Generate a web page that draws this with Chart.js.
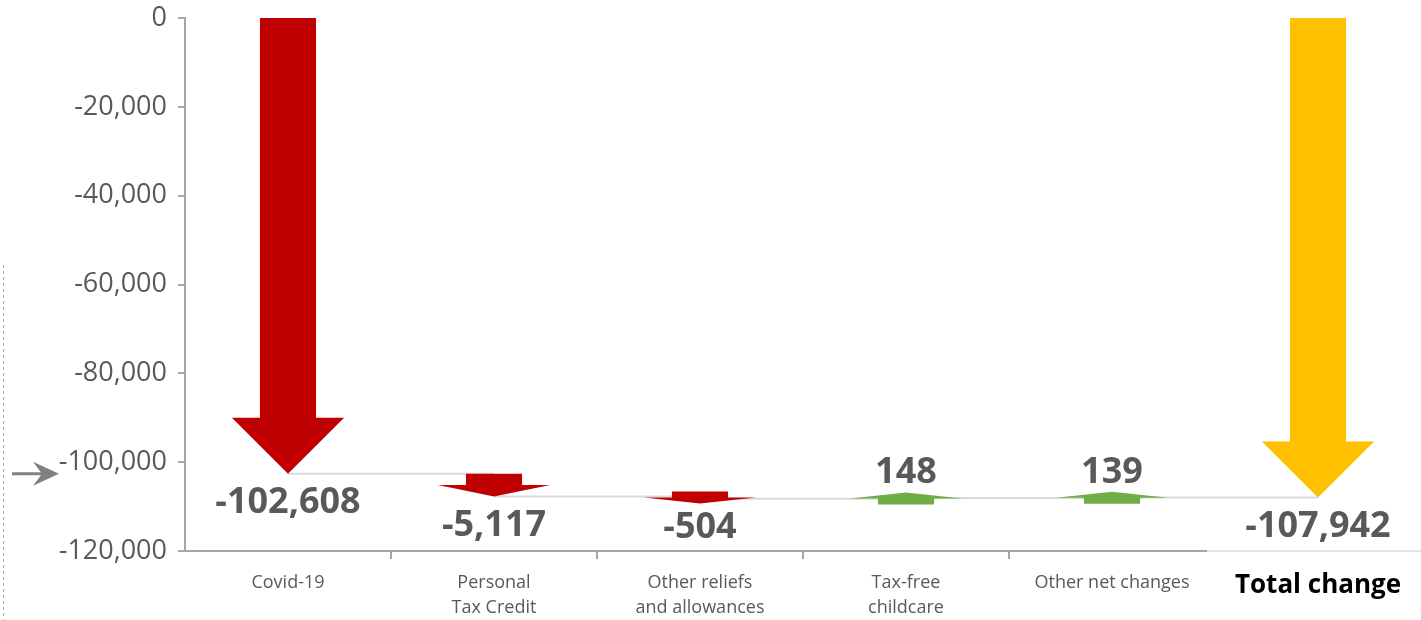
<!DOCTYPE html>
<html>
<head>
<meta charset="utf-8">
<script src="https://cdn.jsdelivr.net/npm/chart.js@4"></script>
<style>
  html, body { margin: 0; padding: 0; background: #fff; }
  #wrap { width: 1421px; height: 620px; position: relative; }
</style>
</head>
<body>
<div id="wrap"><canvas id="chart"></canvas></div>
<script>
// Datos del gráfico (cascada con flechas)
const categories = [
    ['Covid-19'],
    ['Personal', 'Tax Credit'],
    ['Other reliefs', 'and allowances'],
    ['Tax-free', 'childcare'],
    ['Other net changes'],
    ['Total change']
];
const changes = [-102608, -5117, -504, 148, 139];
const totalChange = -107942;
const yTicks = [0, -20000, -40000, -60000, -80000, -100000, -120000];

const RED = '#C00000';
const GREEN = '#70AD47';
const GOLD = '#FFC000';
const GREY_TEXT = '#595959';
const FONT = "'Open Sans', sans-serif";

// Rangos flotantes [inicio, fin] para cada flecha
const ranges = [];
let running = 0;
changes.forEach(v => {
    ranges.push([running, running + v]);
    running += v;
});
ranges.push([0, totalChange]);

const arrowColors = changes.map(v => v < 0 ? RED : GREEN).concat([GOLD]);
const labelValues = changes.concat([totalChange]);

const fmt = v => v.toLocaleString('en-US');

// Plugin que dibuja las flechas, conectores y etiquetas
const arrowPlugin = {
    id: 'arrows',
    beforeDatasetsDraw(chart) {
        const { ctx } = chart;
        const y = chart.scales.y;
        const meta = chart.getDatasetMeta(0);
        ctx.save();
        ctx.strokeStyle = '#D9D9D9';
        ctx.lineWidth = 2;
        for (let i = 0; i < ranges.length - 1; i++) {
            const py = y.getPixelForValue(ranges[i][1]);
            ctx.beginPath();
            ctx.moveTo(meta.data[i].x, py);
            ctx.lineTo(meta.data[i + 1].x, py);
            ctx.stroke();
        }
        ctx.restore();
    },
    afterDatasetsDraw(chart) {
        const { ctx } = chart;
        const y = chart.scales.y;
        const meta = chart.getDatasetMeta(0);
        ctx.save();
        meta.data.forEach((bar, i) => {
            const headW = bar.width;
            const shaftW = headW / 2;
            let p0 = y.getPixelForValue(ranges[i][0]);
            let p1 = y.getPixelForValue(ranges[i][1]);
            const dir = p1 > p0 ? 1 : -1;
            let len = Math.abs(p1 - p0);
            if (len < 12) {
                const mid = (p0 + p1) / 2;
                len = 12;
                p0 = mid - dir * 6;
                p1 = mid + dir * 6;
            }
            const headL = Math.min(56, len * 0.5);
            const pb = p1 - dir * headL;
            const x = bar.x;
            ctx.fillStyle = arrowColors[i];
            ctx.beginPath();
            ctx.moveTo(x - shaftW / 2, p0);
            ctx.lineTo(x + shaftW / 2, p0);
            ctx.lineTo(x + shaftW / 2, pb);
            ctx.lineTo(x + headW / 2, pb);
            ctx.lineTo(x, p1);
            ctx.lineTo(x - headW / 2, pb);
            ctx.lineTo(x - shaftW / 2, pb);
            ctx.closePath();
            ctx.fill();

            // etiqueta del valor
            const v = labelValues[i];
            const vp = y.getPixelForValue(ranges[i][1]);
            ctx.fillStyle = GREY_TEXT;
            ctx.font = 'bold 36px ' + FONT;
            ctx.textAlign = 'center';
            ctx.textBaseline = 'middle';
            ctx.fillText(fmt(v), x, v < 0 ? vp + 29 : vp - 25);
        });

        // flecha gris que señala el nivel de Covid-19 y línea discontinua
        const ay = y.getPixelForValue(ranges[0][1]);
        ctx.strokeStyle = '#808080';
        ctx.fillStyle = '#808080';
        ctx.lineWidth = 3;
        ctx.beginPath();
        ctx.moveTo(12, ay);
        ctx.lineTo(50, ay);
        ctx.stroke();
        ctx.beginPath();
        ctx.moveTo(59, ay);
        ctx.lineTo(33, ay - 12);
        ctx.lineTo(42, ay);
        ctx.lineTo(33, ay + 12);
        ctx.closePath();
        ctx.fill();

        ctx.strokeStyle = '#A6A6A6';
        ctx.lineWidth = 1;
        ctx.setLineDash([3, 3]);
        ctx.beginPath();
        ctx.moveTo(3.5, 265);
        ctx.lineTo(3.5, 620);
        ctx.stroke();
        ctx.setLineDash([]);

        // eje X: tramo oscuro hasta "Other net changes", tramo claro después
        const xs = chart.scales.x;
        const ab = chart.chartArea.bottom;
        const split = (meta.data[4].x + meta.data[5].x) / 2 - 8;
        ctx.lineWidth = 2;
        ctx.strokeStyle = '#A6A6A6';
        ctx.beginPath();
        ctx.moveTo(xs.left, ab);
        ctx.lineTo(split, ab);
        ctx.stroke();
        ctx.strokeStyle = '#D9D9D9';
        ctx.lineWidth = 1.5;
        ctx.beginPath();
        ctx.moveTo(split, ab);
        ctx.lineTo(chart.width, ab);
        ctx.stroke();
        ctx.restore();
    }
};

new Chart(document.getElementById('chart'), {
    type: 'bar',
    data: {
        labels: categories,
        datasets: [{
            data: ranges,
            backgroundColor: 'rgba(0,0,0,0)',
            borderWidth: 0,
            barPercentage: 0.545,
            categoryPercentage: 1
        }]
    },
    options: {
        responsive: true,
        maintainAspectRatio: false,
        animation: false,
        layout: { padding: { top: 18, right: 0, left: 0, bottom: 0 } },
        plugins: {
            legend: { display: false },
            tooltip: { enabled: false }
        },
        scales: {
            x: {
                border: { display: false },
                grid: {
                    offset: true,
                    drawOnChartArea: false,
                    tickLength: 8,
                    lineWidth: 2,
                    color: c => (c.index >= 1 && c.index <= 4) ? '#A6A6A6' : 'rgba(0,0,0,0)'
                },
                ticks: {
                    maxRotation: 0,
                    autoSkip: false,
                    padding: 11,
                    color: c => c.index === 5 ? '#000000' : GREY_TEXT,
                    font: c => c.index === 5
                        ? { family: FONT, size: 26, weight: 'bold', lineHeight: 1.2 }
                        : { family: FONT, size: 18, lineHeight: 1.4 }
                },
                afterFit: s => { s.height = 69; }
            },
            y: {
                min: -120000,
                max: 0,
                afterBuildTicks: s => { s.ticks = yTicks.map(v => ({ value: v })); },
                border: { display: true, color: '#A6A6A6', width: 2 },
                grid: {
                    drawOnChartArea: false,
                    tickLength: 7,
                    lineWidth: 2,
                    color: '#A6A6A6'
                },
                ticks: {
                    padding: 11,
                    color: GREY_TEXT,
                    font: { family: FONT, size: 27 },
                    callback: v => fmt(v)
                },
                afterFit: s => {
                    s.width = 185;
                    s.paddingTop = 0;
                    s.paddingBottom = 0;
                }
            }
        }
    },
    plugins: [arrowPlugin]
});
</script>
</body>
</html>
